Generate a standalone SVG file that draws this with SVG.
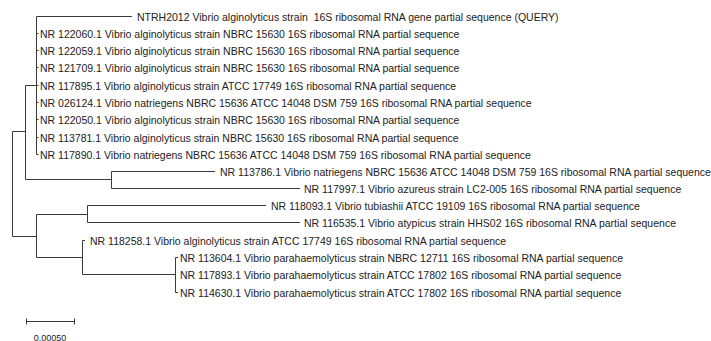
<svg xmlns="http://www.w3.org/2000/svg" width="711" height="341" viewBox="0 0 711 341">
<style>
.l{font-family:"Liberation Sans",Arial,sans-serif;font-size:10.5px;fill:#222}
.s{font-family:"Liberation Sans",Arial,sans-serif;font-size:9px;fill:#222}
.b{fill:none;stroke:#3a3a3a;stroke-width:1}
</style>
<rect width="711" height="341" fill="#fff"/>
<g id="connectors" class="b">
<path d="M12.5,131.5V236.5"/>
<path d="M12.5,131.5H25.5M25.5,85.5V179.5M25.5,85.5H36.5M36.5,16.5V154.5"/>
<path d="M36.5,16.5H132"/>
<path d="M36.5,33.5H38.5M36.5,50.5H38.5M36.5,67.5H38.5M36.5,85.5H38.5M36.5,102.5H38.5M36.5,119.5H38.5M36.5,137.5H38.5M36.5,154.5H38.5"/>
<path d="M25.5,179.5H111.5M111.5,171.5V188.5M111.5,171.5H215M111.5,188.5H300"/>
<path d="M12.5,236.5H36.5M36.5,214.5V257.5M36.5,214.5H87.5M87.5,205.5V222.5M87.5,205.5H266M87.5,222.5H300"/>
<path d="M36.5,257.5H82.5M82.5,240.5V274.5M82.5,240.5H85M82.5,274.5H175.5M175.5,257.5V292.5M175.5,257.5H178M175.5,292.5H178"/>
<path d="M26.5,321.5H74.5M26.5,318.5V324.5M74.5,318.5V324.5"/>
</g>
<g id="n0"><text class="l" x="137" y="20.5" xml:space="preserve">NTRH2012 Vibrio alginolyticus strain  16S ribosomal RNA gene partial sequence (QUERY)</text></g>
<g id="n1"><text class="l" x="40" y="37.5">NR 122060.1 Vibrio alginolyticus strain NBRC 15630 16S ribosomal RNA partial sequence</text></g>
<g id="n2"><text class="l" x="40" y="54.5">NR 122059.1 Vibrio alginolyticus strain NBRC 15630 16S ribosomal RNA partial sequence</text></g>
<g id="n3"><text class="l" x="40" y="71.5">NR 121709.1 Vibrio alginolyticus strain NBRC 15630 16S ribosomal RNA partial sequence</text></g>
<g id="n4"><text class="l" x="40" y="89.5">NR 117895.1 Vibrio alginolyticus strain ATCC 17749 16S ribosomal RNA partial sequence</text></g>
<g id="n5"><text class="l" x="40" y="106.5">NR 026124.1 Vibrio natriegens NBRC 15636 ATCC 14048 DSM 759 16S ribosomal RNA partial sequence</text></g>
<g id="n6"><text class="l" x="40" y="123.5">NR 122050.1 Vibrio alginolyticus strain NBRC 15630 16S ribosomal RNA partial sequence</text></g>
<g id="n7"><text class="l" x="40" y="141.5">NR 113781.1 Vibrio alginolyticus strain NBRC 15630 16S ribosomal RNA partial sequence</text></g>
<g id="n8"><text class="l" x="40" y="158.5">NR 117890.1 Vibrio natriegens NBRC 15636 ATCC 14048 DSM 759 16S ribosomal RNA partial sequence</text></g>
<g id="n9"><text class="l" x="220" y="175.5">NR 113786.1 Vibrio natriegens NBRC 15636 ATCC 14048 DSM 759 16S ribosomal RNA partial sequence</text></g>
<g id="n10"><text class="l" x="304" y="192.5">NR 117997.1 Vibrio azureus strain LC2-005 16S ribosomal RNA partial sequence</text></g>
<g id="n11"><text class="l" x="271" y="209.5">NR 118093.1 Vibrio tubiashii ATCC 19109 16S ribosomal RNA partial sequence</text></g>
<g id="n12"><text class="l" x="304" y="226.5">NR 116535.1 Vibrio atypicus strain HHS02 16S ribosomal RNA partial sequence</text></g>
<g id="n13"><text class="l" x="90" y="244.5">NR 118258.1 Vibrio alginolyticus strain ATCC 17749 16S ribosomal RNA partial sequence</text></g>
<g id="n14"><text class="l" x="180" y="261.5">NR 113604.1 Vibrio parahaemolyticus strain NBRC 12711 16S ribosomal RNA partial sequence</text></g>
<g id="n15"><text class="l" x="180" y="278.5">NR 117893.1 Vibrio parahaemolyticus strain ATCC 17802 16S ribosomal RNA partial sequence</text></g>
<g id="n16"><text class="l" x="180" y="296.5">NR 114630.1 Vibrio parahaemolyticus strain ATCC 17802 16S ribosomal RNA partial sequence</text></g>
<g id="scale"><text class="s" x="50" y="340.5" text-anchor="middle">0.00050</text></g>
</svg>
